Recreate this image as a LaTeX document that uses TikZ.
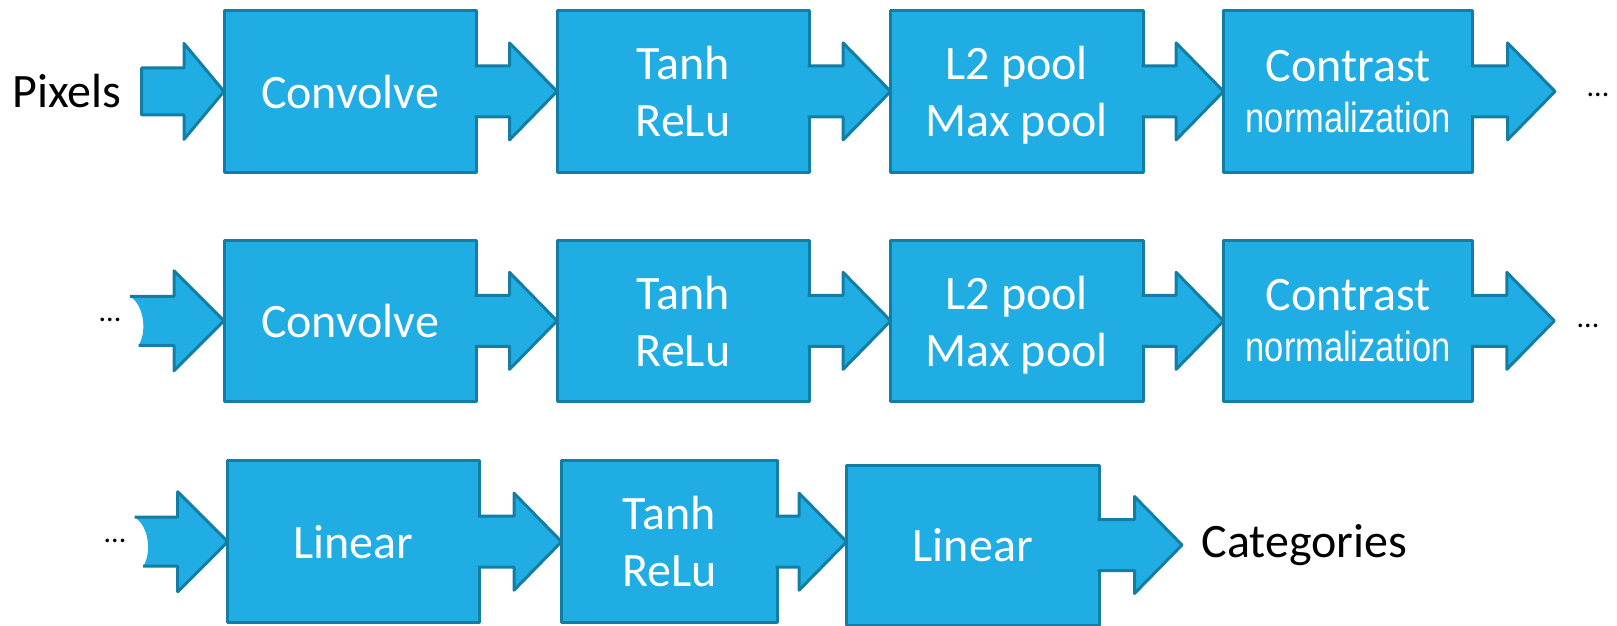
\documentclass[tikz,border=0pt]{standalone}
\usepackage{fontspec}
\setmainfont{Carlito}
\newfontfamily\narrowfont[FakeStretch=0.82]{Liberation Sans}
\usetikzlibrary{calc}
\definecolor{bfill}{RGB}{31,173,228}
\definecolor{bline}{RGB}{19,126,164}
% block arrow from the east side of a box to a tip point
\newcommand{\boxarrow}[2]{%
  \fill[arrfill] let \p1=(#1.east), \p2=(#2) in
    (\x1-2pt,\y1+25.5pt) -- (\x2-47.5pt,\y1+25.5pt) -- (\x2-47.5pt,\y1+48.5pt) -- (\x2,\y1)
    -- (\x2-47.5pt,\y1-48.5pt) -- (\x2-47.5pt,\y1-25.5pt) -- (\x1-2pt,\y1-25.5pt) -- cycle;
  \draw[arrline] let \p1=(#1.east), \p2=(#2) in
    (\x1-1.5pt,\y1+25.5pt) -- (\x2-47.5pt,\y1+25.5pt) -- (\x2-47.5pt,\y1+48.5pt) -- (\x2,\y1)
    -- (\x2-47.5pt,\y1-48.5pt) -- (\x2-47.5pt,\y1-25.5pt) -- (\x1-1.5pt,\y1-25.5pt);}
% block arrow with a concave (notched) back
\newcommand{\notcharrow}[2]{%
  \fill[arrfill] let \p1=(#1), \p2=(#2) in
    (\x1,\y2+24.5pt) -- (\x2-50pt,\y2+24.5pt) -- (\x2-50pt,\y2+50pt) -- (\x2,\y2)
    -- (\x2-50pt,\y2-50pt) -- (\x2-50pt,\y2-24.5pt) -- (\x1+8.5pt,\y2-24.5pt)
    .. controls (\x1+16pt,\y2-14pt) and (\x1+16pt,\y2+14pt) .. (\x1,\y2+24.5pt) -- cycle;
  \draw[arrline] let \p1=(#1), \p2=(#2) in
    (\x1,\y2+24.5pt) -- (\x2-50pt,\y2+24.5pt) -- (\x2-50pt,\y2+50pt) -- (\x2,\y2)
    -- (\x2-50pt,\y2-50pt) -- (\x2-50pt,\y2-24.5pt) -- (\x1+8.5pt,\y2-24.5pt);}
\begin{document}
\begin{tikzpicture}[x=1pt,y=1pt,
  box/.style={draw=bline, fill=bfill, line width=3pt, text=white, inner sep=0pt, outer sep=0pt,
    align=center, font=\fontsize{48}{57}\selectfont, text depth=0pt, line join=round},
  cbox/.style={box, text depth=-9pt},
  arrfill/.style={fill=bfill},
  arrline/.style={draw=bline, line width=3pt, line join=round},
  lbl/.style={inner sep=0pt, font=\fontsize{48}{57}\selectfont, anchor=base west},
  dotlbl/.style={inner sep=0pt, font=\fontsize{30}{36}\selectfont, anchor=base}]
\useasboundingbox (0,0) rectangle (1617,-626);

% ---- row 1
\node[box, minimum width=252pt, minimum height=162.7pt] (r1a) at (350,-91.4) {Convolve};
\node[box, minimum width=252pt, minimum height=162.7pt] (r1b) at (683,-91.4) {Tanh\\ReLu};
\node[box, minimum width=252.4pt, minimum height=162.7pt] (r1c) at (1016.8,-91.4) {L2 pool\\Max pool};
\node[cbox, minimum width=249pt, minimum height=162.7pt] (r1d) at (1348.1,-91.4)
  {Contrast\\[-6pt]{\narrowfont\fontsize{42}{50}\selectfont normalization}};
\node[lbl] (pix) at (12,-107) {Pixels};
\coordinate (in1) at (141.6,-91.4);
\coordinate (o1) at (1555,-91.4);
\node[dotlbl] (d1r) at (1598,-96) {...};
\filldraw[arrfill, arrline] let \p1=(in1), \p2=(r1a.west) in
  (\x1,\y2+23.5pt) -- (\x2-40pt,\y2+23.5pt) -- (\x2-40pt,\y2+48pt) -- (\x2,\y2)
  -- (\x2-40pt,\y2-48pt) -- (\x2-40pt,\y2-23.5pt) -- (\x1,\y2-23.5pt) -- cycle;
\boxarrow{r1a}{r1b.west}
\boxarrow{r1b}{r1c.west}
\boxarrow{r1c}{r1d.west}
\boxarrow{r1d}{o1}

% ---- row 2
\node[box, minimum width=252pt, minimum height=161.7pt] (r2a) at (350,-320.85) {Convolve};
\node[box, minimum width=252pt, minimum height=161.7pt] (r2b) at (683,-320.85) {Tanh\\ReLu};
\node[box, minimum width=252.4pt, minimum height=161.7pt] (r2c) at (1016.8,-320.85) {L2 pool\\Max pool};
\node[cbox, minimum width=249pt, minimum height=161.7pt] (r2d) at (1348.1,-320.85)
  {Contrast\\[-6pt]{\narrowfont\fontsize{42}{50}\selectfont normalization}};
\coordinate (in2) at (130,-320.5);
\coordinate (o2) at (1554.3,-320.85);
\node[dotlbl] (d2l) at (110,-321.5) {...};
\node[dotlbl] (d2r) at (1588,-327.5) {...};
\notcharrow{in2}{r2a.west}
\boxarrow{r2a}{r2b.west}
\boxarrow{r2b}{r2c.west}
\boxarrow{r2c}{r2d.west}
\boxarrow{r2d}{o2}

% ---- row 3
\node[box, minimum width=251.8pt, minimum height=162pt] (r3a) at (353.6,-541.7) {Linear};
\node[box, minimum width=215.5pt, minimum height=162pt] (r3b) at (669.25,-541.7) {Tanh\\ReLu};
\node[box, minimum width=252.4pt, minimum height=160pt] (r3c) at (972.8,-545) {Linear};
\node[lbl] (cat) at (1201.5,-557.3) {Categories};
\coordinate (in3) at (134.7,-541.5);
\coordinate (o3) at (1182,-545);
\node[dotlbl] (d3l) at (115,-542.5) {...};
\notcharrow{in3}{r3a.west}
\boxarrow{r3a}{r3b.west}
\boxarrow{r3b}{r3c.west}
\boxarrow{r3c}{o3}
\end{tikzpicture}
\end{document}
